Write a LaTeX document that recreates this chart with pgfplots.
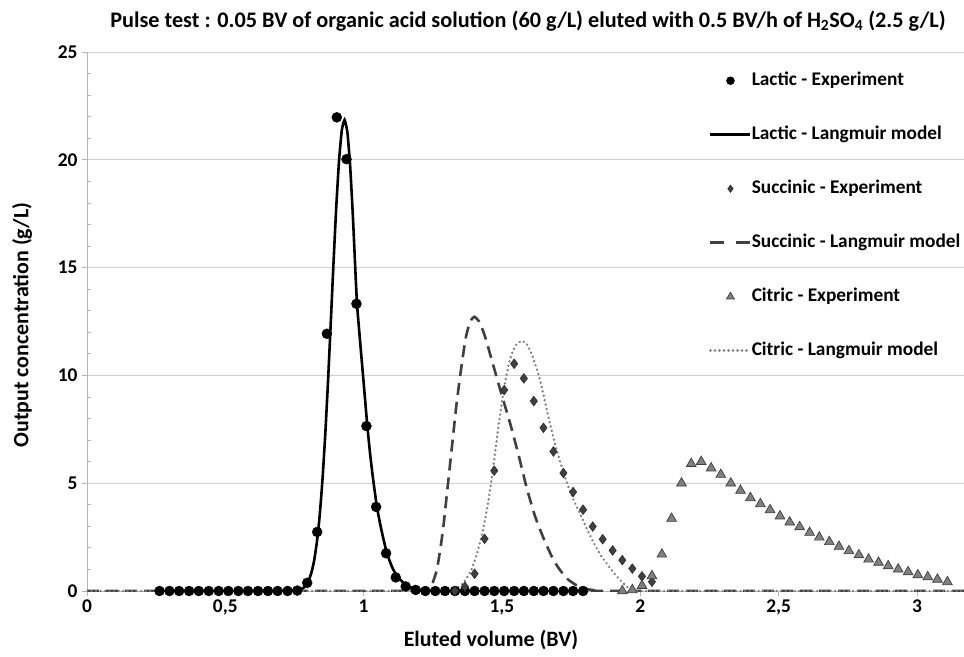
\documentclass[border=0pt]{standalone}
\usepackage{fontspec}
\setmainfont{Carlito}
\usepackage{pgfplots}
\pgfplotsset{compat=1.18}

\definecolor{gridgray}{HTML}{CFCFCF}
\definecolor{axisgray}{HTML}{B5B5B5}
\definecolor{succ}{HTML}{404040}
\definecolor{succedge}{HTML}{2A2A2A}
\definecolor{citr}{HTML}{808080}
\definecolor{citredge}{HTML}{3C3C3C}
\definecolor{citline}{HTML}{7A7A7A}

\newcommand{\fs}[1]{\fontsize{#1}{#1}\selectfont\bfseries}

\pgfplotsset{
  lactexp/.style={only marks, mark=*, mark size=5bp, black},
  lactmod/.style={no marks, black, line width=2.6bp},
  succexp/.style={only marks, mark=diamond*, mark size=4.8bp,
    mark options={fill=succ, draw=succedge, line width=0.6bp}},
  succmod/.style={no marks, succ, line width=2.6bp, dash pattern=on 12bp off 7bp},
  citexp/.style={only marks, mark=triangle*, mark size=5.6bp,
    mark options={fill=citr, draw=citredge, line width=0.7bp}},
  citmod/.style={no marks, citline, line width=2.5bp, line cap=round, dash pattern=on 0.1bp off 4.4bp},
  markleg/.style={legend image code/.code={
    \draw[##1, mark size=#1] plot coordinates {(20bp,0bp)};}},
  lineleg/.style={legend image code/.code={
    \draw[##1] (0bp,0bp) -- (40bp,0bp);}},
  dashleg/.style={legend image code/.code={
    \draw[##1, dash pattern=on 14bp off 12bp] (0bp,0bp) -- (40bp,0bp);}},
}

\begin{document}
\begin{tikzpicture}
\path[use as bounding box] (-87bp,-66bp) rectangle (877bp,591bp);
\begin{axis}[
  at={(0,0)}, anchor=south west,
  scale only axis, width=877bp, height=539bp,
  xmin=0, xmax=3.17, ymin=0, ymax=25,
  axis lines*=left,
  axis line style={axisgray, line width=0.8bp},
  xtick={0,0.5,1,1.5,2,2.5,3},
  xticklabels={0,{0,5},1,{1,5},2,{2,5},3},
  ytick={0,5,10,15,20,25},
  extra y ticks={1,2,3,4,6,7,8,9,11,12,13,14,16,17,18,19,21,22,23,24},
  extra y tick labels={},
  extra y tick style={grid=none, tick align=inside, major tick length=4bp},
  tick align=outside, major tick length=5bp,
  tick style={axisgray, line width=0.8bp},
  ymajorgrids, major grid style={gridgray, line width=0.8bp},
  /pgf/number format/assume math mode=true,
  ticklabel style={font=\fs{19.5}},
  yticklabel style={xshift=-1bp},
  title={Pulse test : 0.05 BV of organic acid solution (60 g/L) eluted with 0.5 BV/h of H\textsubscript{2}SO\textsubscript{4} (2.5 g/L)},
  title style={font=\fs{22.3}, at={(axis description cs:0.5029,1.0464)}, anchor=center},
  xlabel={Eluted volume (BV)},
  xlabel style={font=\fs{22}, at={(axis description cs:0.4606,-0.0909)}, anchor=center},
  ylabel={Output concentration (g/L)},
  ylabel style={font=\fs{22}, at={(axis description cs:-0.0741,0.4935)}, anchor=center},
  legend cell align=left,
  legend style={draw=none, fill=none, at={(rel axis cs:0.7092,0.9647)}, anchor=north west,
    inner sep=0pt, row sep=35bp, font=\fs{19.4},
    nodes={text height=14bp, text depth=5bp, inner sep=0pt},
    /tikz/every even column/.style={column sep=2bp}},
]

% Lactic - experiment
\addplot[lactexp, markleg=4bp] coordinates {
(0.262,0) (0.298,0) (0.333,0) (0.369,0) (0.404,0) (0.440,0) (0.476,0) (0.511,0)
(0.547,0) (0.582,0) (0.618,0) (0.654,0) (0.689,0) (0.725,0) (0.760,0.02) (0.796,0.38)
(0.832,2.74) (0.867,11.93) (0.903,21.97) (0.938,20.03) (0.974,13.32) (1.010,7.65)
(1.045,3.90) (1.081,1.75) (1.116,0.63) (1.152,0.21) (1.188,0.05) (1.223,0) (1.259,0)
(1.294,0) (1.330,0) (1.366,0) (1.401,0) (1.437,0) (1.472,0) (1.508,0) (1.544,0)
(1.579,0) (1.615,0) (1.650,0) (1.686,0) (1.722,0) (1.757,0) (1.793,0)
};
\addlegendentry{Lactic - Experiment}

% Lactic - Langmuir model
\addplot[lactmod, lineleg, smooth, tension=0.3] coordinates {
(0.700,0) (0.743,0.01) (0.761,0.03) (0.781,0.13) (0.791,0.26) (0.801,0.48) (0.811,0.84)
(0.821,1.41) (0.831,2.27) (0.841,3.49) (0.851,5.13) (0.861,7.21) (0.871,9.67)
(0.881,12.41) (0.891,15.21) (0.901,17.82) (0.911,19.96) (0.921,21.37) (0.931,21.85)
(0.941,21.3) (0.951,19.75) (0.961,17.4) (0.971,14.6) (0.976,13.3) (0.983,12.2)
(0.993,10.7) (1.003,9.2) (1.013,7.7) (1.023,6.4) (1.033,5.3) (1.048,3.9) (1.063,2.9)
(1.083,1.8) (1.103,1.1) (1.123,0.65) (1.153,0.28) (1.183,0.10) (1.223,0.02) (1.263,0)
};
\addlegendentry{Lactic - Langmuir model}

% Succinic - experiment
\addplot[succexp, markleg=3.6bp] coordinates {
(1.330,0) (1.366,0.2) (1.401,0.8) (1.437,2.42) (1.472,5.58) (1.508,9.32) (1.544,10.54)
(1.579,9.86) (1.615,8.81) (1.650,7.57) (1.686,6.47) (1.722,5.47) (1.757,4.59)
(1.793,3.77) (1.828,2.99) (1.864,2.40) (1.900,1.88) (1.935,1.43) (1.971,1.04)
(2.006,0.68) (2.042,0.43)
};
\addlegendentry{Succinic - Experiment}

% Succinic - Langmuir model
\addplot[succmod, dashleg, smooth, tension=0.3] coordinates {
(0,0) (1.20,0) (1.235,0.05) (1.25,0.4) (1.265,1.0) (1.28,2.2) (1.29,3.2) (1.305,5.0)
(1.32,6.8) (1.335,8.6) (1.349,10.0) (1.36,11.0) (1.37,11.8) (1.38,12.3) (1.39,12.6)
(1.401,12.72) (1.42,12.45) (1.44,11.75) (1.46,10.85) (1.48,9.95) (1.50,9.05)
(1.53,7.75) (1.56,6.3) (1.59,4.75) (1.62,3.45) (1.65,2.45) (1.68,1.6) (1.70,1.15)
(1.72,0.8) (1.74,0.52) (1.765,0.3) (1.80,0.1) (1.84,0.03) (1.88,0) (3.17,0)
};
\addlegendentry{Succinic - Langmuir model}

% Citric - experiment
\addplot[citexp, markleg=4.5bp] coordinates {
(1.935,0) (1.971,0.05) (2.006,0.25) (2.042,0.7) (2.078,1.7) (2.113,3.36) (2.149,5.0)
(2.184,5.9) (2.220,6.0) (2.256,5.7) (2.291,5.4) (2.327,5.0) (2.362,4.66) (2.398,4.32)
(2.434,4.04) (2.469,3.76) (2.505,3.47) (2.540,3.19) (2.576,2.97) (2.612,2.71)
(2.647,2.49) (2.683,2.28) (2.718,2.06) (2.754,1.86) (2.790,1.67) (2.825,1.47)
(2.861,1.32) (2.896,1.16) (2.932,1.01) (2.968,0.88) (3.003,0.74) (3.039,0.65)
(3.074,0.54) (3.110,0.42)
};
\addlegendentry{Citric - Experiment}

% Citric - Langmuir model
\addplot[citmod, lineleg, smooth, tension=0.3] coordinates {
(0,0) (1.30,0) (1.33,0.1) (1.355,0.3) (1.37,0.55) (1.39,1.0) (1.41,1.75) (1.43,2.75)
(1.45,4.1) (1.47,5.9) (1.49,7.9) (1.51,9.6) (1.53,10.8) (1.55,11.4) (1.572,11.6)
(1.59,11.45) (1.61,10.9) (1.633,10.0) (1.65,9.1) (1.67,7.95) (1.69,6.9) (1.71,6.0)
(1.735,5.0) (1.76,4.2) (1.783,3.55) (1.81,2.8) (1.837,2.1) (1.86,1.6) (1.886,1.15)
(1.91,0.75) (1.935,0.4) (1.96,0.12) (1.99,0.02) (2.02,0) (3.17,0)
};
\addlegendentry{Citric - Langmuir model}

\end{axis}
\end{tikzpicture}
\end{document}
